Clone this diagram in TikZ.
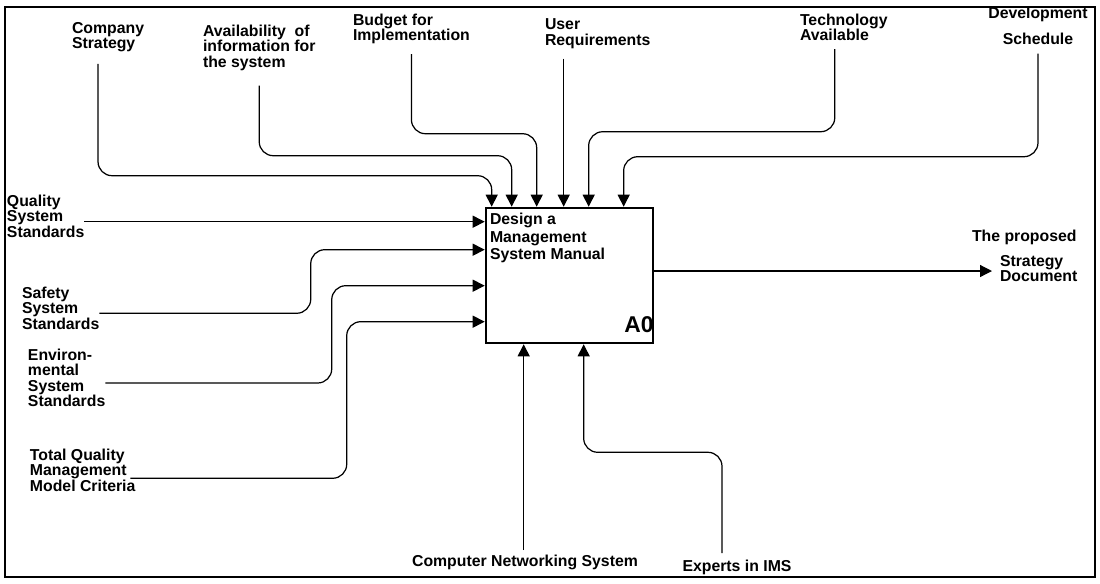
\documentclass[tikz,border=0pt]{standalone}
\usepackage{fontspec}
\setmainfont{Liberation Sans}
\usetikzlibrary{arrows.meta}

\begin{document}
\begin{tikzpicture}[
        x=0.02cm, y=-0.02cm,
        term/.style={
            anchor=north west,
            align=left,
            inner sep=0pt,
            outer sep=0pt,
            font=\bfseries\fontsize{9}{8.8}\selectfont
        },
        func/.style={
            rectangle,
            draw,
            line width=1.5pt,
            minimum width=3.34cm,
            minimum height=2.7cm,
            inner sep=0pt
        },
        arrow/.style={-{Triangle[length=0.24cm,width=0.24cm]}, line width=0.7pt, rounded corners=8pt}
    ]

        \useasboundingbox (0,0) rectangle (1100,583);
        \draw[line width=1pt] (5,7) rectangle (1095,577);

        % the activity box
        \node[anchor=base east, inner sep=0pt, font=\bfseries\fontsize{13}{13}\selectfont] (num) at (654,332) {A0};
        \node[func] (box) at (569.5,275.5) {};
        \node[term, font=\bfseries\fontsize{9}{10}\selectfont] (title) at (490,213) {Design a\\Management\\System Manual};

        % controls
        \node[term] (cstrat) at (72,22) {Company\\Strategy};
        \node[term] (avail) at (203,25) {Availability\ \ of\\information for\\the system};
        \node[term] (budget) at (353,14) {Budget for\\Implementation};
        \node[term] (userreq) at (545,19) {User\\Requirements};
        \node[term] (tech) at (800,14) {Technology\\Available};
        \node[term, anchor=north, align=center] (devsched) at (1038,7) {Development\\[6pt]Schedule};

        % inputs
        \node[term] (quality) at (7,195) {Quality\\System\\Standards};
        \node[term] (safety) at (22,287) {Safety\\System\\Standards};
        \node[term] (environ) at (28,349) {Environ-\\mental\\System\\Standards};
        \node[term] (tqm) at (30,449) {Total Quality\\Management\\Model Criteria};

        % mechanisms
        \node[term, anchor=north] (compnet) at (525,555) {Computer Networking System};
        \node[term, anchor=north] (experts) at (737,560) {Experts in IMS};

        % output
        \node[term] (proposed) at (972,230) {The proposed};
        \node[term] (stratdoc) at (1000,255) {Strategy\\Document};

        \coordinate (in1) at ([xshift=0.14cm]box.north west);
        \coordinate (in2) at ([xshift=0.54cm]box.north west);
        \coordinate (in3) at ([xshift=1.04cm]box.north west);
        \coordinate (in4) at ([xshift=1.58cm]box.north west);
        \coordinate (in5) at ([xshift=2.08cm]box.north west);
        \coordinate (in6) at ([xshift=2.78cm]box.north west);
        \coordinate (lin1) at ([yshift=-0.3cm]box.north west);
        \coordinate (lin2) at ([yshift=-0.86cm]box.north west);
        \coordinate (lin3) at ([yshift=-1.58cm]box.north west);
        \coordinate (lin4) at ([yshift=-2.3cm]box.north west);
        \coordinate (mech1) at ([xshift=0.78cm]box.south west);
        \coordinate (mech2) at ([xshift=1.98cm]box.south west);
        \coordinate (outend) at (992,271);

        \draw[arrow] ([xshift=-0.2cm,yshift=-0.24cm]cstrat.south) |- ([yshift=0.62cm]in1) -- (in1);
        \draw[arrow] ([yshift=-0.3cm]avail.south) |- ([yshift=1.02cm]in2) -- (in2);
        \draw[arrow] ([yshift=-0.2cm]budget.south) |- ([yshift=1.46cm]in3) -- (in3);
        \draw[arrow] (in4 |- userreq.south) ++(0,10) -- (in4);
        \draw[arrow] ([xshift=-0.18cm,yshift=-0.16cm]tech.south) |- ([yshift=1.5cm]in5) -- (in5);
        \draw[arrow] ([yshift=-0.18cm]devsched.south) |- ([yshift=1.0cm]in6) -- (in6);

        \draw[arrow] (lin1 -| quality.east) -- (lin1);
        \draw[arrow] ([yshift=-0.1cm]safety.east) -| ([xshift=-3.48cm]lin2) -- (lin2);
        \draw[arrow] ([yshift=-0.1cm]environ.east) -| ([xshift=-3.06cm]lin3) -- (lin3);
        \draw[arrow] ([xshift=-0.1cm,yshift=-0.16cm]tqm.east) -| ([xshift=-2.76cm]lin4) -- (lin4);

        \draw[arrow] (mech1 |- compnet.north) ++(0,-5) -- (mech1);
        \draw[arrow] ([xshift=-0.3cm,yshift=0.14cm]experts.north) |- ([yshift=-2.16cm]mech2) -- (mech2);

        \draw[arrow] (box.east |- outend) -- (outend);

    \end{tikzpicture}
\end{document}
